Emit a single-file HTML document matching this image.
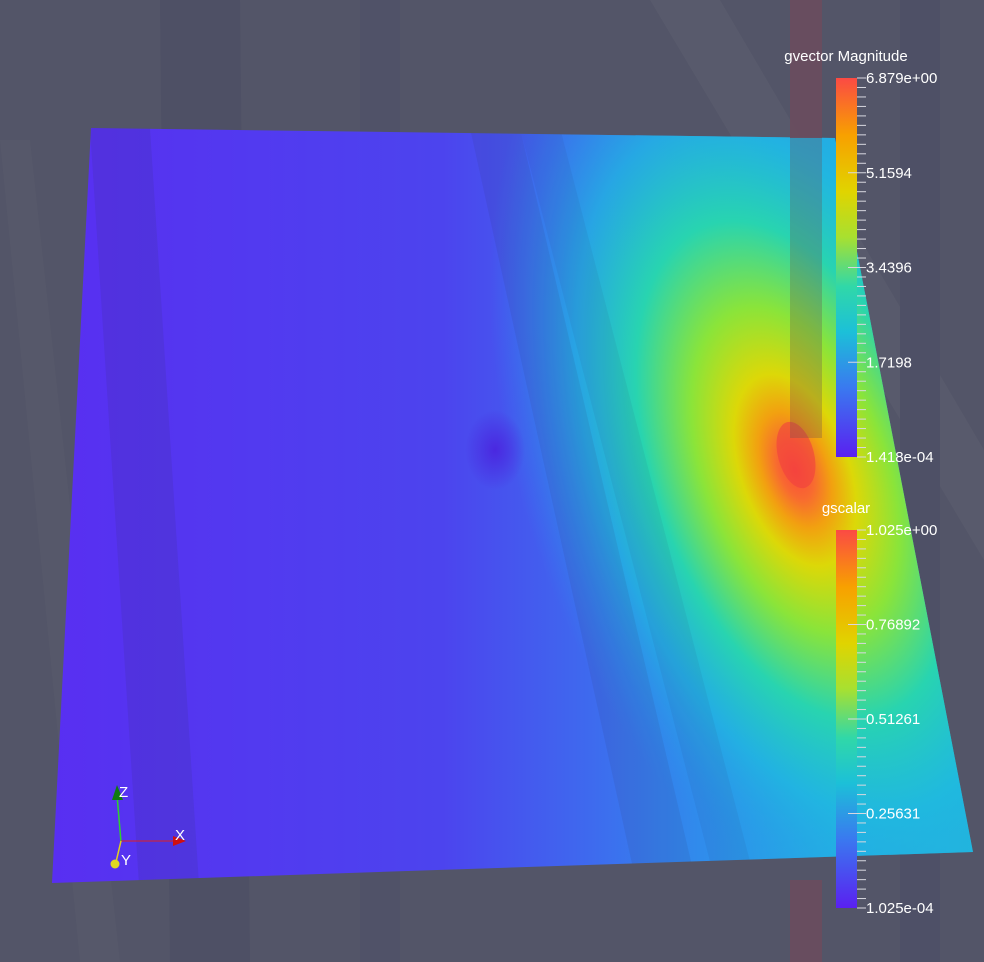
<!DOCTYPE html>
<html><head><meta charset="utf-8"><style>
html,body{margin:0;padding:0;background:#535568;}
svg{display:block;font-family:"Liberation Sans","DejaVu Sans",sans-serif;}
</style></head><body>
<svg id="scene" width="984" height="962" viewBox="0 0 984 962" xmlns="http://www.w3.org/2000/svg">
<defs>
<linearGradient id="base" x1="0" y1="0" x2="1" y2="0">
<stop offset="0" stop-color="#5a2cf2"/>
<stop offset="0.45" stop-color="#4c44ee"/>
<stop offset="0.6" stop-color="#3e6aee"/>
<stop offset="0.72" stop-color="#2f8eec"/>
<stop offset="0.85" stop-color="#22b2e2"/>
<stop offset="1" stop-color="#1fc0d8"/>
</linearGradient>
<radialGradient id="hot" gradientUnits="userSpaceOnUse" cx="0" cy="0" r="1" gradientTransform="translate(795 470) rotate(-20) scale(270 500)">
<stop offset="0" stop-color="#fb4a3c"/>
<stop offset="0.06" stop-color="#f86a30"/>
<stop offset="0.12" stop-color="#f2a010"/>
<stop offset="0.2" stop-color="#dcd808"/>
<stop offset="0.34" stop-color="#8ae43a"/>
<stop offset="0.52" stop-color="#28d4b0"/>
<stop offset="0.72" stop-color="#20b8e0" stop-opacity="0.75"/>
<stop offset="1" stop-color="#2a90ec" stop-opacity="0"/>
</radialGradient>
<radialGradient id="dip" cx="0.5" cy="0.5" r="0.5">
<stop offset="0" stop-color="#4a28e0"/>
<stop offset="1" stop-color="#4a28e0" stop-opacity="0"/>
</radialGradient>
<clipPath id="planeClip"><polygon points="91,128 835,138 973,852 52,883"/></clipPath>
<linearGradient id="cb1" x1="0" y1="1" x2="0" y2="0">
<stop offset="0" stop-color="#5a20f0"/>
<stop offset="0.18" stop-color="#3a78f0"/>
<stop offset="0.33" stop-color="#1cc0d8"/>
<stop offset="0.45" stop-color="#30d8a8"/>
<stop offset="0.58" stop-color="#a8e030"/>
<stop offset="0.7" stop-color="#e0d400"/>
<stop offset="0.85" stop-color="#f8a000"/>
<stop offset="1" stop-color="#fb4a44"/>
</linearGradient>
</defs>

<g opacity="0.5">
<polygon points="160,0 240,0 250,962 170,962" fill="#4a4c62"/>
<polygon points="360,0 400,0 400,962 360,962" fill="#4e5068"/>
<polygon points="650,0 720,0 984,450 984,560" fill="#5e6070"/>
<polygon points="900,0 940,0 940,962 900,962" fill="#4a4c66"/>
<polygon points="0,140 30,140 120,962 80,962" fill="#5a5c6c"/>
</g>

<g clip-path="url(#planeClip)">
<rect x="0" y="0" width="984" height="962" fill="url(#base)"/>
<rect x="0" y="0" width="984" height="962" fill="url(#hot)"/>
<ellipse cx="495" cy="450" rx="30" ry="40" fill="url(#dip)"/>
<polygon points="90,128 150,128 200,900 140,900" fill="#303060" opacity="0.12"/>
<polygon points="470,128 520,128 700,900 640,900" fill="#303060" opacity="0.1"/>
<polygon points="520,128 560,128 760,900 720,900" fill="#303060" opacity="0.07"/>
<ellipse cx="796" cy="455" rx="18" ry="34" fill="#f04040" opacity="0.6" transform="rotate(-15 796 455)"/>
</g>

<rect x="790" y="0" width="32" height="138" fill="#6a4c5e" opacity="0.9"/>
<rect x="790" y="138" width="32" height="300" fill="#6a5050" opacity="0.3"/>
<rect x="790" y="880" width="32" height="82" fill="#6a4c5e" opacity="0.9"/>

<g id="bars"></g>

<g>
<line x1="117" y1="795" x2="121" y2="842" stroke="#30d030" stroke-width="1.5"/>
<polygon points="117,785 112,800 123,800" fill="#107a10"/>
<line x1="121" y1="841" x2="175" y2="841" stroke="#e02020" stroke-width="1"/>
<polygon points="173,836 173,846 186,841" fill="#d01010"/>
<line x1="121" y1="841" x2="116" y2="862" stroke="#e0d020" stroke-width="1.5"/>
<circle cx="115" cy="864" r="4.5" fill="#e0d820"/>
<text x="119" y="797" fill="#fff" font-size="15">Z</text>
<text x="175" y="840" fill="#fff" font-size="15">X</text>
<text x="121" y="865" fill="#fff" font-size="15">Y</text>
</g>
</svg>
<script>
const vecTitle = "gvector Magnitude";
const vecLabels = ["6.879e+00","5.1594","3.4396","1.7198","1.418e-04"];
const scaTitle = "gscalar";
const scaLabels = ["1.025e+00","0.76892","0.51261","0.25631","1.025e-04"];
const NS='http://www.w3.org/2000/svg';
const g=document.getElementById('bars');
function mk(t,a){const e=document.createElementNS(NS,t);for(const k in a)e.setAttribute(k,a[k]);return e;}
function bar(title,labels,top,bottom,name){
  const grp=mk('g',{});
  
  
  const x=836,w=21;
  const r=mk('rect',{x:x,y:top,width:w,height:bottom-top,fill:'url(#cb1)'});
  
  
  grp.appendChild(r);
  const t=mk('text',{x:x+10,y:top-17,fill:'#fff','font-size':15,'text-anchor':'middle'});
  t.textContent=title;
  
  
  grp.appendChild(t);
  const n=labels.length-1, minor=40;
  for(let i=0;i<=minor;i++){
    const y=top+(bottom-top)*i/minor;
    grp.appendChild(mk('line',{x1:x+w,x2:x+w+9,y1:y,y2:y,stroke:'#d8d8e0','stroke-width':1}));
  }
  labels.forEach((lb,i)=>{
    const y=top+(bottom-top)*i/n;
    if(i>0&&i<n)grp.appendChild(mk('line',{x1:x+w-9,x2:x+w,y1:y,y2:y,stroke:'#d8d8e0','stroke-width':1}));
    const tx=mk('text',{x:x+w+9,y:y+5,fill:'#fff','font-size':15});
    tx.textContent=lb;
    
    
    grp.appendChild(tx);
  });
  g.appendChild(grp);
}
bar(vecTitle,vecLabels,78,457,'gvector-colorbar');
bar(scaTitle,scaLabels,530,908,'gscalar-colorbar');
</script>
</body></html>
